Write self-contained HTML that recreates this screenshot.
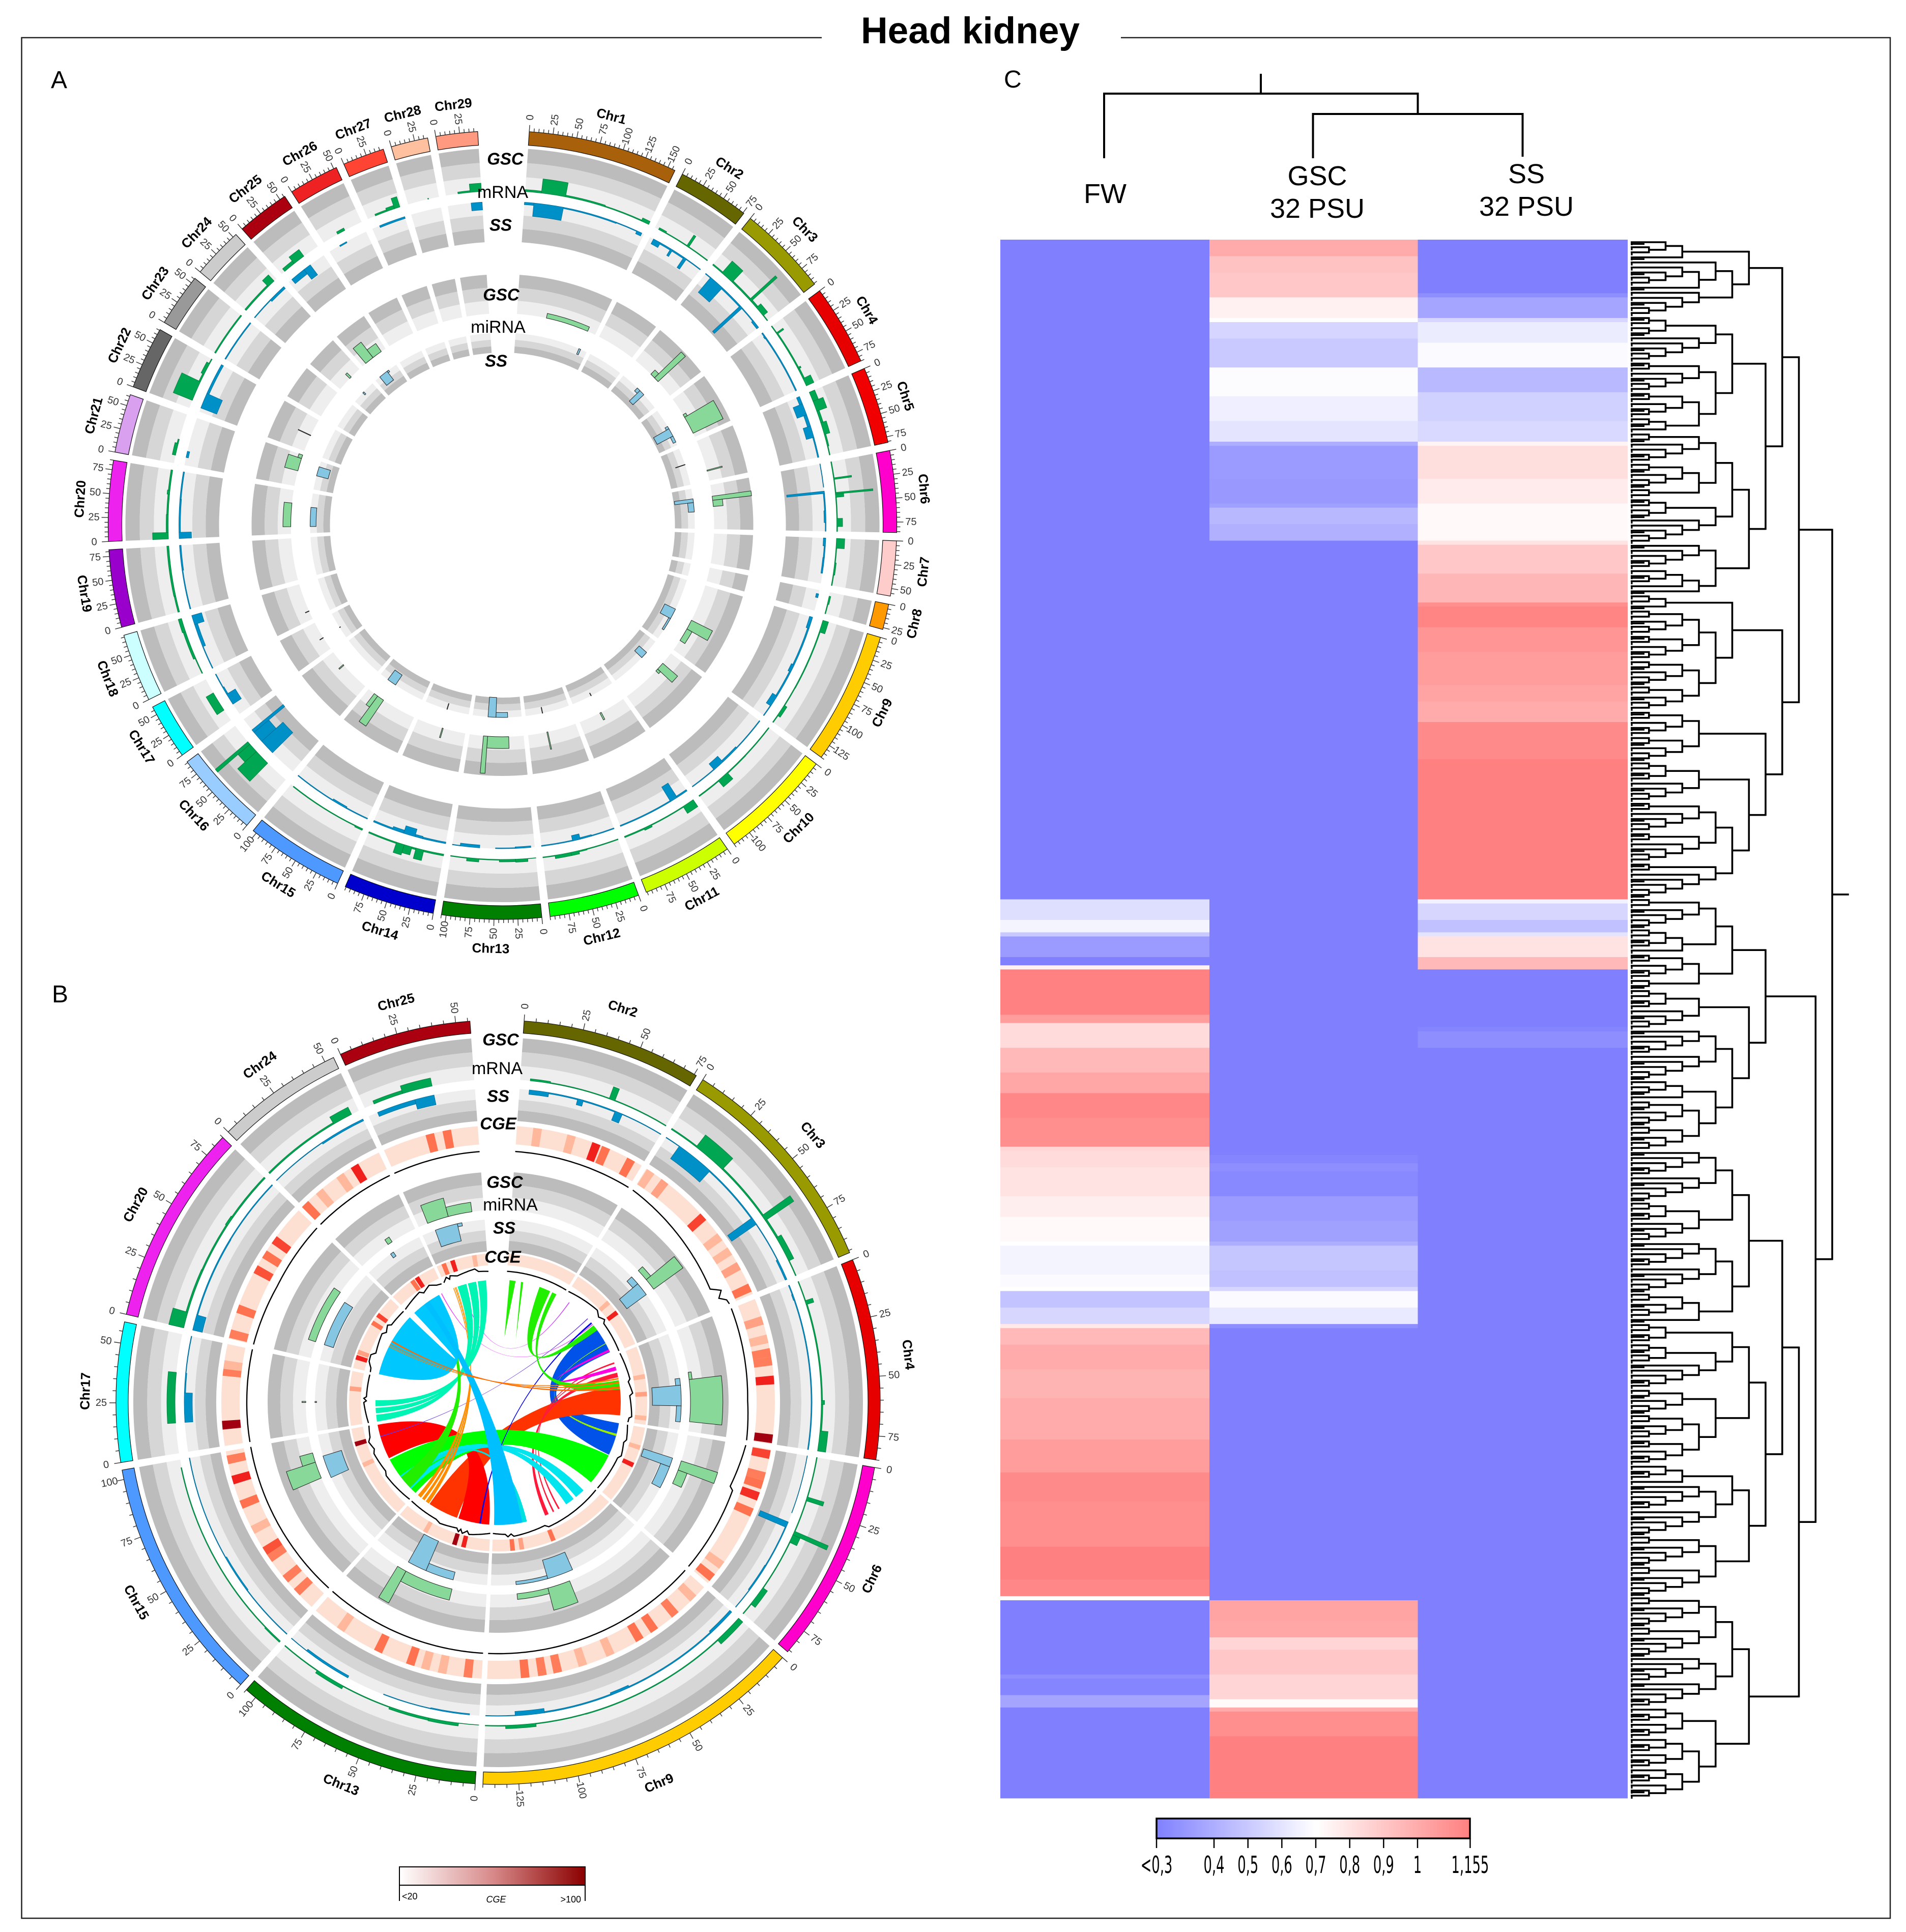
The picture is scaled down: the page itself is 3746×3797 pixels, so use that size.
<!DOCTYPE html>
<html lang="en">
<head>
<meta charset="utf-8">
<title>Head kidney</title>
<style>
html,body{margin:0;padding:0;background:#fff}
svg{display:block}
text{font-family:"Liberation Sans",sans-serif;fill:#000}
</style>
</head>
<body>
<svg id="fig" xmlns="http://www.w3.org/2000/svg" width="3746" height="3797" viewBox="0 0 3746 3797">
<defs>
<linearGradient id="heatGrad" x1="0" x2="1" y1="0" y2="0"><stop offset="0" stop-color="#8080ff"/><stop offset="0.508" stop-color="#ffffff"/><stop offset="1" stop-color="#ff8080"/></linearGradient>
<linearGradient id="cgeGrad" x1="0" x2="1" y1="0" y2="0"><stop offset="0" stop-color="#ffffff"/><stop offset="0.5" stop-color="#d88a8a"/><stop offset="1" stop-color="#8b0000"/></linearGradient>
</defs>
<rect width="3746" height="3797" fill="#fff"/>
<path d="M1615 74H42.5V3770H3715V74H2203" fill="none" stroke="#222" stroke-width="2.5"/>
<text x="1907" y="85" font-size="73" font-weight="700" text-anchor="middle">Head kidney</text>
<text x="100" y="173" font-size="48">A</text>
<text x="102" y="1970" font-size="48">B</text>
<text x="1973" y="172" font-size="48">C</text>
<g id="panelA"></g>
<g id="panelB"></g>
<g id="panelC">
<path d="M2478 145V184M2170 311V184H2786.5V224M2580.5 311V224H2992.5V308" fill="none" stroke="#000" stroke-width="4"/>
<text x="2172" y="399" font-size="54" text-anchor="middle">FW</text>
<text x="2589" y="364" font-size="54" text-anchor="middle">GSC</text>
<text x="2589" y="428" font-size="54" text-anchor="middle">32 PSU</text>
<text x="3000" y="360" font-size="54" text-anchor="middle">SS</text>
<text x="3000" y="424" font-size="54" text-anchor="middle">32 PSU</text>
</g>
<g id="legendB">
<rect x="785" y="3669" width="365" height="36" fill="url(#cgeGrad)" stroke="#000" stroke-width="2"/>
<path d="M785 3705V3736M1150 3705V3736" stroke="#000" stroke-width="2"/>
<text x="790" y="3733" font-size="18">&lt;20</text>
<text x="975" y="3739" font-size="18" font-style="italic" text-anchor="middle">CGE</text>
<text x="1142" y="3739" font-size="18" text-anchor="end">&gt;100</text>
</g>
</svg>
<script>
/* ---------- genome ---------- */
const chrNames=["Chr1","Chr2","Chr3","Chr4","Chr5","Chr6","Chr7","Chr8","Chr9","Chr10","Chr11","Chr12","Chr13","Chr14","Chr15","Chr16","Chr17","Chr18","Chr19","Chr20","Chr21","Chr22","Chr23","Chr24","Chr25","Chr26","Chr27","Chr28","Chr29"];
const chrLengths=[158,76,96,85,81,86,58,27,140,120,96,95,105,96,104,91,59,72,82,85,62,66,56,54,56,53,44,39,44];
const chrColors=["#a8610a","#666600","#999900","#e60000","#f00000","#ff00cc","#ffcccc","#ff9900","#ffcc00","#ffff00","#ccff00","#00ff00","#008000","#0000cc","#4d99ff","#99ccff","#00ffff","#ccffff","#9900cc","#ee22ee","#d9a0f0","#666666","#999999","#cccccc","#aa0010","#ee2222","#ff4433","#ffc0a0","#ff9980"];
const panelBChrs=["Chr2","Chr3","Chr4","Chr6","Chr9","Chr13","Chr15","Chr17","Chr20","Chr24","Chr25"];

/* ---------- histogram bins: chromosome, start Mb, end Mb, relative value ---------- */
const mrnaGscBins=[
["Chr1",0,20,.12],["Chr1",20,50,.42],["Chr1",50,100,.1],["Chr1",100,148,.06],["Chr1",148,158,.2],
["Chr2",5,15,.12],["Chr2",15,45,.05],["Chr2",45,48,.4],["Chr2",48,76,.05],
["Chr3",0,15,.08],["Chr3",15,32,.45],["Chr3",32,62,.1],["Chr3",62,65,.85],["Chr3",65,75,.12],["Chr3",75,88,.25],["Chr3",88,96,.05],
["Chr4",0,10,.05],["Chr4",10,12,.3],["Chr4",12,60,.08],["Chr4",60,62,.2],["Chr4",62,75,.1],["Chr4",75,85,.3],
["Chr5",0,12,.25],["Chr5",12,25,.35],["Chr5",25,40,.15],["Chr5",40,55,.25],["Chr5",55,70,.1],["Chr5",70,81,.05],
["Chr6",0,20,.05],["Chr6",20,22,.5],["Chr6",22,38,.05],["Chr6",38,40,.9],["Chr6",40,44,.3],["Chr6",44,70,.05],["Chr6",70,80,.25],["Chr6",80,86,.05],
["Chr7",0,12,.3],["Chr7",12,30,.05],["Chr7",30,45,.1],["Chr7",45,58,.05],
["Chr8",5,15,.1],["Chr8",15,27,.05],
["Chr9",0,15,.25],["Chr9",15,60,.06],["Chr9",60,90,.06],["Chr9",90,115,.05],["Chr9",115,130,.2],["Chr9",130,140,.05],
["Chr10",0,45,.05],["Chr10",45,75,.06],["Chr10",75,90,.3],["Chr10",90,120,.06],
["Chr11",0,15,.3],["Chr11",15,60,.06],["Chr11",60,70,.15],["Chr11",70,96,.08],
["Chr12",0,40,.05],["Chr12",40,50,.08],["Chr12",50,60,.2],["Chr12",60,80,.2],["Chr12",80,95,.05],
["Chr13",0,10,.02],["Chr13",10,25,.18],["Chr13",25,45,.15],["Chr13",45,70,.05],["Chr13",70,85,.2],["Chr13",85,105,.05],
["Chr14",0,25,.1],["Chr14",25,35,.35],["Chr14",35,40,.1],["Chr14",40,50,.3],["Chr14",50,60,.35],["Chr14",60,96,.08],
["Chr15",0,10,.1],["Chr15",10,100,.05],
["Chr16",30,50,.65],["Chr16",50,62,.45],["Chr16",62,66,1],
["Chr17",15,40,.3],
["Chr18",0,20,.05],["Chr18",20,55,.15],["Chr18",55,72,.2],
["Chr19",0,20,.1],["Chr19",20,82,.12],
["Chr20",0,8,.45],["Chr20",8,30,.12],["Chr20",30,55,.1],["Chr20",55,60,.15],["Chr20",60,85,.1],
["Chr21",10,25,.2],["Chr21",25,30,.08],
["Chr22",10,35,.55],["Chr22",35,45,.1],["Chr22",45,60,.2],["Chr22",60,66,.05],
["Chr23",0,56,.08],
["Chr24",0,40,.1],["Chr24",40,50,.3],
["Chr25",5,20,.2],["Chr25",20,35,.3],
["Chr26",20,30,.15],
["Chr27",10,25,.1],["Chr27",25,35,.2],["Chr27",35,42,.35],
["Chr28",25,26,.05],
["Chr29",15,30,.1],["Chr29",30,44,.3]];
const mrnaSsBins=[
["Chr1",0,12,.15],["Chr1",12,50,.42],["Chr1",50,120,.08],["Chr1",120,148,.05],["Chr1",148,155,.2],
["Chr2",5,15,.25],["Chr2",15,30,.1],["Chr2",30,33,.3],["Chr2",33,50,.1],["Chr2",50,54,.4],["Chr2",54,76,.05],
["Chr3",0,8,.05],["Chr3",8,28,.55],["Chr3",28,60,.1],["Chr3",60,64,.95],["Chr3",64,85,.06],["Chr3",85,96,.15],
["Chr4",0,5,.08],["Chr4",5,8,.12],["Chr4",8,85,.08],
["Chr5",0,10,.2],["Chr5",10,25,.35],["Chr5",25,40,.2],["Chr5",40,55,.3],["Chr5",55,81,.08],
["Chr6",0,30,.03],["Chr6",35,38,.95],["Chr6",38,60,.08],["Chr6",60,75,.12],["Chr6",75,86,.05],
["Chr7",0,10,.15],["Chr7",10,25,.08],["Chr7",25,45,.1],
["Chr8",5,10,.15],
["Chr9",0,15,.2],["Chr9",15,65,.1],["Chr9",65,75,.2],["Chr9",75,110,.1],["Chr9",110,125,.25],["Chr9",125,140,.05],
["Chr10",0,45,.05],["Chr10",45,70,.12],["Chr10",70,85,.3],["Chr10",85,120,.05],
["Chr11",0,15,.1],["Chr11",15,25,.5],["Chr11",25,96,.07],
["Chr12",0,30,.06],["Chr12",30,45,.1],["Chr12",45,55,.25],["Chr12",55,95,.06],
["Chr13",5,25,.1],["Chr13",25,50,.05],["Chr13",70,95,.18],["Chr13",95,105,.04],
["Chr14",0,30,.1],["Chr14",30,40,.15],["Chr14",40,55,.3],["Chr14",55,70,.2],["Chr14",70,96,.1],
["Chr15",0,30,.06],["Chr15",30,50,.12],["Chr15",50,104,.05],
["Chr16",35,55,.75],["Chr16",55,70,.55],["Chr16",70,74,1],
["Chr17",15,30,.35],["Chr17",30,40,.1],["Chr17",40,59,.05],
["Chr18",0,30,.05],["Chr18",30,60,.2],["Chr18",60,72,.35],
["Chr19",0,50,.06],["Chr19",50,82,.1],
["Chr20",0,8,.4],["Chr20",8,50,.1],["Chr20",50,85,.08],
["Chr21",10,18,.15],
["Chr22",5,25,.5],["Chr22",25,66,.15],
["Chr23",0,56,.07],
["Chr24",0,30,.05],["Chr24",30,54,.15],
["Chr25",5,25,.25],["Chr25",25,35,.4],
["Chr26",15,25,.08],
["Chr27",10,44,.12],
["Chr29",30,44,.3]];
const mirnaGscBins=[
["Chr1",58,142,.12],
["Chr3",40,50,.15],["Chr3",50,60,.95],
["Chr4",36,42,.08],["Chr4",42,77,.85],
["Chr5",60,62,.4],
["Chr6",22,30,1],["Chr6",30,42,.25],
["Chr9",73,92,.6],["Chr9",92,118,.15],
["Chr10",25,40,.5],["Chr10",40,45,.1],
["Chr11",50,53,.2],
["Chr12",56,58,.45],
["Chr13",29,70,.3],["Chr13",70,78,.95],
["Chr14",44,46,.25],
["Chr15",68,82,.8],["Chr15",82,90,.35],
["Chr16",58,60,.15],
["Chr17",25,26,.1],
["Chr18",16,17,.1],
["Chr20",14,60,.2],
["Chr21",30,55,.35],["Chr21",55,62,.1],
["Chr22",32,33,.35],
["Chr24",28,32,.15],
["Chr25",8,26,.5],["Chr25",26,46,.25]];
const mirnaSsBins=[
["Chr1",140,144,.3],
["Chr3",40,48,.2],["Chr3",48,60,.75],
["Chr4",40,46,.15],["Chr4",46,64,.9],["Chr4",64,78,.15],
["Chr5",36,37,.5],
["Chr6",22,30,.95],["Chr6",30,50,.3],
["Chr9",67,90,.6],["Chr9",90,118,.1],
["Chr10",30,45,.5],
["Chr11",52,53,.15],
["Chr12",58,59,.3],
["Chr13",30,55,.25],["Chr13",55,72,1],
["Chr14",47,48,.3],
["Chr15",65,85,.6],
["Chr17",25,26,.05],
["Chr20",14,55,.3],
["Chr21",30,50,.6],
["Chr24",25,28,.15],
["Chr25",12,32,.55],["Chr25",32,36,.1]];

/* ---------- CGE heat cells: chromosome, Mb, CGE ---------- */
const cgeOuterCells=[
["Chr2",12,38],["Chr2",32,38],["Chr2",47,75],["Chr2",53,58],["Chr2",69,58],
["Chr3",3,38],["Chr3",13,45],["Chr3",43,68],["Chr3",58,38],["Chr3",68,38],["Chr3",78,45],["Chr3",92,58],
["Chr4",13,45],["Chr4",24,38],["Chr4",32,55],["Chr4",37,55],["Chr4",48,75],["Chr4",82,100],
["Chr6",3,68],["Chr6",16,55],["Chr6",21,58],["Chr6",28,72],["Chr6",38,58],["Chr6",73,38],["Chr6",82,58],
["Chr9",9,38],["Chr9",23,55],["Chr9",38,58],["Chr9",48,58],["Chr9",67,38],["Chr9",84,38],["Chr9",99,55],["Chr9",108,55],["Chr9",118,58],
["Chr13",8,55],["Chr13",23,38],["Chr13",33,38],["Chr13",42,58],["Chr13",62,58],["Chr13",87,38],
["Chr15",12,55],["Chr15",22,55],["Chr15",37,55],["Chr15",42,65],["Chr15",56,38],["Chr15",72,58],["Chr15",87,75],["Chr15",99,55],
["Chr17",12,100],["Chr17",43,55],["Chr17",47,38],
["Chr20",3,55],["Chr20",18,58],["Chr20",43,65],["Chr20",53,58],["Chr20",63,68],
["Chr24",2,58],["Chr24",13,38],["Chr24",28,38],["Chr24",38,75],
["Chr25",28,58],["Chr25",38,58]];
const cgeInnerCells=[
["Chr25",42,38],["Chr25",18,75],["Chr25",8,58],["Chr24",33,75],["Chr24",27,58],["Chr20",63,68],["Chr20",53,58],["Chr20",18,45],["Chr20",12,75],
["Chr17",40,45],["Chr15",87,100],["Chr15",63,38],["Chr13",72,38],["Chr13",38,100],["Chr13",28,75],["Chr9",118,58],["Chr9",108,45],["Chr9",73,58],
["Chr6",42,75],["Chr6",22,38],["Chr4",78,38],["Chr4",52,45],["Chr4",33,38],["Chr3",57,75],["Chr3",43,38]];
const cgeStops=[20,40,60,75,100];
const cgeStopColors=["#fee0d2","#ffb396","#ff6b47","#f0201c","#a00010"];

/* ---------- coverage lines: chromosome, Mb, value ---------- */
const outerLinePoints=[
["Chr3",82,1.2],["Chr3",86,.2],["Chr3",90,.8],["Chr3",93,.1],["Chr6",28,.5],["Chr6",30,.1],["Chr20",40,.2],["Chr4",60,.2]];
const innerLinePoints=[
["Chr3",41,.8],["Chr3",48,.1],["Chr3",55,.7],["Chr3",58,.1],
["Chr4",33,.5],["Chr4",36,.1],["Chr4",50,.7],["Chr4",53,.1],["Chr4",78,.6],["Chr4",80,.1],
["Chr6",18,.5],["Chr6",22,.1],["Chr6",38,.6],["Chr6",42,.1],
["Chr9",72,.6],["Chr9",76,.1],["Chr9",115,.7],["Chr9",118,.2],["Chr9",122,.7],["Chr9",125,.2],
["Chr13",25,.8],["Chr13",28,.2],["Chr13",33,.9],["Chr13",36,.2],["Chr13",38,.8],["Chr13",41,.2],["Chr13",62,.6],["Chr13",68,.2],
["Chr15",40,.5],["Chr15",45,.1],["Chr15",70,.6],["Chr15",75,.2],["Chr15",85,.8],["Chr15",90,.3],
["Chr17",25,.6],["Chr17",27,.1],["Chr17",30,.6],["Chr17",32,.1],
["Chr20",5,.1],["Chr20",12,.8],["Chr20",20,.9],["Chr20",24,.1],["Chr20",48,.7],["Chr20",52,.1],["Chr20",60,.7],["Chr20",63,.1],
["Chr24",26,.8],["Chr24",30,.2],["Chr24",40,.9],["Chr24",48,.2],
["Chr25",5,.8],["Chr25",8,.2],["Chr25",10,.8],["Chr25",18,.3],["Chr25",40,.8],["Chr25",44,.2]];

/* ---------- links: chrA, startA, endA, chrB, startB, endB, colour ---------- */
const links=[
["Chr3",8,9,"Chr25",18,19,"#cc33ff"],["Chr3",50,51,"Chr24",48,49,"#ee33ff"],
["Chr3",55,93,"Chr6",0,43,"#0052e8"],
["Chr6",14,17,"Chr3",80,81,"#99ee00"],
["Chr4",40,78,"Chr13",45,85,"#ff3300"],
["Chr15",57,103,"Chr13",2,43,"#ff0000"],
["Chr9",50,52,"Chr4",8,10,"#ff1a3c"],["Chr9",58,60,"Chr4",14,16,"#ff1a3c"],["Chr9",66,71,"Chr4",22,28,"#ff1a3c"],
["Chr6",44,86,"Chr15",0,55,"#00ff00"],
["Chr9",11,24,"Chr15",8,16,"#00e5ee"],["Chr9",28,40,"Chr15",19,30,"#00e5ee"],
["Chr9",96,104,"Chr15",18,26,"#00e0e0"],
["Chr3",47,49,"Chr13",13,15,"#0000ee"],["Chr3",40,41,"Chr15",87,88,"#6633ee"],
["Chr4",14,19,"Chr3",89,92,"#ff00e0"],
["Chr13",86,91,"Chr25",8,9,"#ff8c00"],["Chr13",93,97,"Chr25",10,11,"#ff8c00"],["Chr13",99,104,"Chr25",11.5,12.5,"#ff8c00"],
["Chr17",0,9,"Chr25",14,26,"#00f5b5"],["Chr17",11,18,"Chr25",28,39,"#00f5b5"],["Chr17",20,28,"Chr25",41,52,"#00f5b5"],
["Chr2",44,59,"Chr3",52,60,"#22ee00"],["Chr2",62,68,"Chr4",32,44,"#22ee00"],
["Chr24",30,36,"Chr15",10,28,"#22ee00"],
["Chr20",0,85,"Chr24",5,45,"#00c8ff"],
["Chr24",22,30,"Chr9",102,139,"#00bfff"],
["Chr4",29,31,"Chr20",38,39,"#ff8000"],["Chr4",34,36,"Chr20",41,42,"#ff7000"],["Chr4",40,43,"Chr20",45,47,"#ff6a00"]];
const linkStubs=[["Chr2",4,12,5.5,129,"#22ee00"],["Chr2",19,22,15.7,129,"#22ee00"]];

/* ---------- heatmap runs: rows, value ---------- */
const heatFW=[[160,.3],[5,.58],[3,.66],[1,.5],[5,.36],[2,.3],[1,.75],[11,1.15],[2,1.05],[6,.83],[6,.95],[5,1.02],[6,1.13],[7,1.1],[1,.85],[4,.83],[7,.8],[5,.76],[6,.72],[1,.7],[7,.66],[3,.68],[1,.7],[4,.48],[4,.55],[1,.78],[4,.95],[6,1],[7,.97],[10,1],[8,1.05],[7,1.12],[11,1.1],[8,1.155],[4,1.13],[1,.7],[18,.3],[1,.33],[4,.31],[3,.38],[22,.3]];
const heatGSC=[[4,1],[4,.92],[6,.9],[5,.75],[1,.7],[4,.545],[7,.5],[7,.69],[6,.64],[5,.6],[1,.4],[8,.36],[6,.353],[1,.37],[4,.437],[4,.41],[149,.3],[2,.31],[2,.33],[6,.32],[6,.36],[5,.37],[1,.4],[6,.49],[4,.47],[1,.55],[4,.68],[4,.62],[1,.33],[66,.3],[5,1.03],[4,1.02],[3,.85],[6,.9],[6,.85],[2,.72],[1,1],[6,1.1],[15,1.155]];
const heatSS=[[13,.3],[1,.33],[5,.38],[1,.55],[5,.63],[6,.68],[6,.44],[7,.53],[5,.56],[1,.74],[8,.82],[6,.77],[9,.72],[1,.8],[7,.9],[7,.96],[1,1.1],[5,1.14],[6,1.08],[8,1.05],[4,1.03],[5,1],[9,1.12],[34,1.155],[1,.65],[4,.55],[3,.47],[1,.6],[5,.8],[3,.95],[14,.3],[1,.31],[4,.33],[182,.3]];
const heatColumns=[["fw",heatFW],["gsc",heatGSC],["ss",heatSS]];
const heatLegendValues=[.3,.4,.5,.6,.7,.8,.9,1,1.155];
const heatLegendLabels=["<0,3","0,4","0,5","0,6","0,7","0,8","0,9","1","1,155"];

/* ---------- row dendrogram as nested clusters (. = leaf) ---------- */
const dendroMacros=[["a","(..)"],["b","(.a)"],["c","(aa)"],["d","(.b)"],["e","(b.)"],["f","(ab)"],["g","(.d)"],["h","(ad)"]];
const dendroA1="((e((.(d.))g))(((cg)(h(f(a.))))(((h(fa))(cg))(g(e.)))))";
const dendroA2="(((a.)((ff)(ff)))((ff)((cd)((hh)(ag)))))";
const dendroB1="(((h(c.))(fa))((cd)((gg)(e(ff)))))";
const dendroB2a="((((gg)(cd))((gg)(f.)))(((c(cg))(f(ff)))((e(gg))(hh))))";
const dendroB2b="(((hh)(gg))((bb)((bb)(bb))))";
const dendroTree="(("+dendroA1+dendroA2+")("+dendroB1+"("+dendroB2a+dendroB2b+")))";

/* ---------- helpers ---------- */
const NS="http://www.w3.org/2000/svg";
function mk(tag,attrs,parent,txt){
  const el=document.createElementNS(NS,tag);
  for(const k in attrs)el.setAttribute(k,attrs[k]);
  if(txt!==undefined)el.textContent=txt;
  parent.appendChild(el);
  return el;
}
function hexRgb(h){return [parseInt(h.substr(1,2),16),parseInt(h.substr(3,2),16),parseInt(h.substr(5,2),16)];}
function mix(c1,c2,t){const a=hexRgb(c1),b=hexRgb(c2);return "rgb("+a.map((v,i)=>Math.round(v+(b[i]-v)*t)).join(",")+")";}
function cgeColor(v){
  for(let i=1;i<cgeStops.length;i++){
    if(v<=cgeStops[i])return mix(cgeStopColors[i-1],cgeStopColors[i],(v-cgeStops[i-1])/(cgeStops[i]-cgeStops[i-1]));
  }
  return cgeStopColors[cgeStopColors.length-1];
}
/* mRNA histogram axis: low counts are compressed towards the base line */
function mrnaAxis(v){return v<.2?v*.4:.08+(v-.2)*1.15;}
function linearAxis(v){return v;}

function drawCircos(root,p){
  const rad=d=>d*Math.PI/180;
  const pt=(r,a)=>[p.cx+r*Math.sin(rad(a)),p.cy-r*Math.cos(rad(a))];
  const f=n=>n.toFixed(1);
  const sector=(r0,r1,a0,a1)=>{
    const la=(a1-a0)>180?1:0,A=pt(r1,a0),B=pt(r1,a1),C=pt(r0,a1),D=pt(r0,a0);
    return "M"+f(A[0])+" "+f(A[1])+"A"+r1+" "+r1+" 0 "+la+" 1 "+f(B[0])+" "+f(B[1])+"L"+f(C[0])+" "+f(C[1])+"A"+r0+" "+r0+" 0 "+la+" 0 "+f(D[0])+" "+f(D[1])+"Z";
  };
  const start={};
  let cursor=p.start;
  p.chrs.forEach(n=>{start[n]=cursor;cursor+=chrLengths[chrNames.indexOf(n)]*p.scale+p.gap;});
  const ang=(chr,mb)=>start[chr]+mb*p.scale;
  const has=chr=>start[chr]!==undefined;

  /* background track bands */
  const bandD=["","",""];
  p.tracks.forEach(t=>{
    const step=(t.outer-t.inner)/3;
    p.chrs.forEach(n=>{
      const a0=ang(n,0),a1=ang(n,chrLengths[chrNames.indexOf(n)]);
      for(let i=0;i<3;i++){
        const shade=t.darkOuter?i:2-i;
        bandD[shade]+=sector(t.outer-(i+1)*step,t.outer-i*step,a0,a1);
      }
    });
  });
  ["#bcbcbc","#d6d6d6","#eeeeee"].forEach((col,i)=>{
    const el=mk("path",{d:bandD[i],fill:col},root);
    
    
  });

  /* ideograms, ticks and labels */
  p.chrs.forEach(n=>{
    const idx=chrNames.indexOf(n),len=chrLengths[idx];
    const a0=ang(n,0),a1=ang(n,len);
    const g=mk("g",{},root);
    
    
    const id=mk("path",{d:sector(p.idIn,p.idOut,a0,a1),fill:chrColors[idx],stroke:"#111","stroke-width":1.2},g);
    
    
    let d="";
    for(let m=0;m<=len;m+=5){
      const t=pt(p.idOut,ang(n,m)),u=pt(p.idOut+(m%25===0?13:7),ang(n,m));
      d+="M"+f(t[0])+" "+f(t[1])+"L"+f(u[0])+" "+f(u[1]);
    }
    const ticks=mk("path",{d:d,stroke:"#333","stroke-width":1.4,fill:"none"},g);
    
    
    for(let m=0;m<=len;m+=25){
      const a=ang(n,m),q=pt(p.tickR,a),rot=a<180?a-90:a+90;
      const tl=mk("text",{x:f(q[0]),y:f(q[1]),"font-size":20,"text-anchor":"middle","dominant-baseline":"central",transform:"rotate("+f(rot)+" "+f(q[0])+" "+f(q[1])+")",style:"fill:#333"},g,String(m));
      
      
    }
    const mid=(a0+a1)/2,q=pt(p.labelR,mid),rot=(mid>90&&mid<270)?mid-180:mid;
    const cl=mk("text",{x:f(q[0]),y:f(q[1]),"font-size":26,"font-weight":700,"text-anchor":"middle","dominant-baseline":"central",transform:"rotate("+f(rot)+" "+f(q[0])+" "+f(q[1])+")"},g,n);
    
    
  });

  /* histograms */
  p.hists.forEach(h=>{
    const g=mk("g",{},root);
    
    
    h.bins.forEach(b=>{
      if(!has(b[0]))return;
      const far=h.base+h.dir*h.axis(b[3])*h.height;
      const r0=Math.min(h.base,far),r1=Math.max(h.base,far);
      const el=mk("path",{d:sector(r0,r1,ang(b[0],b[1]),ang(b[0],b[2])),fill:h.fill,stroke:h.stroke,"stroke-width":h.sw},g);
      
      
    });
  });

  /* CGE rings and coverage lines (panel B only) */
  (p.cge||[]).forEach(c=>{
    const g=mk("g",{},root);
    
    
    let base="";
    p.chrs.forEach(n=>{base+=sector(c.inner,c.outer,ang(n,0),ang(n,chrLengths[chrNames.indexOf(n)]));});
    const bg=mk("path",{d:base,fill:"#fee0d2"},g);
    
    
    c.cells.forEach(cell=>{
      const el=mk("path",{d:sector(c.inner,c.outer,ang(cell[0],cell[1]-2.5),ang(cell[0],cell[1]+2.5)),fill:cgeColor(cell[2])},g);
      
      
    });
    let d="";
    p.chrs.forEach(n=>{
      const len=chrLengths[chrNames.indexOf(n)];
      const pts=[[0,0]].concat(c.line.filter(x=>x[0]===n).map(x=>[x[1],x[2]])).concat([[len,0]]);
      pts.forEach((v,i)=>{
        if(i===0){const q=pt(c.lineR,ang(n,v[0]));d+="M"+f(q[0])+" "+f(q[1]);return;}
        const prev=pts[i-1],steps=Math.max(1,Math.ceil((v[0]-prev[0])/2));
        for(let s=1;s<=steps;s++){
          const m=prev[0]+(v[0]-prev[0])*s/steps,val=prev[1]+(v[1]-prev[1])*s/steps;
          const q=pt(c.lineR+val*c.lineH,ang(n,m));
          d+="L"+f(q[0])+" "+f(q[1]);
        }
      });
    });
    const ln=mk("path",{d:d,fill:"none",stroke:"#000","stroke-width":2.4},g);
    
    
  });

  /* links */
  if(p.linkR){
    const g=mk("g",{},root);
    
    
    const R=p.linkR,cc=f(p.cx)+" "+f(p.cy);
    const P=a=>{const q=pt(R,a);return f(q[0])+" "+f(q[1]);};
    links.forEach(l=>{
      const a1=ang(l[0],l[1]),a2=ang(l[0],l[2]),b1=ang(l[3],l[4]),b2=ang(l[3],l[5]);
      const d="M"+P(a1)+"A"+R+" "+R+" 0 0 1 "+P(a2)+"Q"+cc+" "+P(b1)+"A"+R+" "+R+" 0 0 1 "+P(b2)+"Q"+cc+" "+P(a1)+"Z";
      const el=mk("path",{d:d,fill:l[6]},g);
      
      
    });
    linkStubs.forEach(s=>{
      const e=pt(s[4],s[3]);
      const d="M"+P(ang(s[0],s[1]))+"L"+P(ang(s[0],s[2]))+"L"+f(e[0])+" "+f(e[1])+"Z";
      const el=mk("path",{d:d,fill:s[5]},g);
      
      
    });
  }

  /* track captions */
  p.captions.forEach(c=>{
    const el=mk("text",{x:c[1],y:c[2],"font-size":c[3],"text-anchor":"middle","dominant-baseline":"central","font-weight":c[4]?700:400,"font-style":c[4]?"italic":"normal"},root,c[0]);
    
    
  });
}

const GREEN="#00a651",BLUE="#0090c8",PGREEN="#88d89a",PBLUE="#85c6e3";

drawCircos(document.getElementById("panelA"),{
  cx:987.5,cy:1032,start:3.9,scale:.1395,gap:1.2,chrs:chrNames,
  idIn:748,idOut:775,tickR:803,labelR:832,
  tracks:[{outer:741,inner:657,darkOuter:true},{outer:636,inner:557,darkOuter:false},{outer:493,inner:416,darkOuter:true},{outer:378,inner:339,darkOuter:false}],
  hists:[
    {name:'mrna-gsc-histogram-a',bins:mrnaGscBins,base:657,dir:1,height:84,axis:mrnaAxis,fill:GREEN,stroke:"#007a3a",sw:.8},
    {name:'mrna-ss-histogram-a',bins:mrnaSsBins,base:636,dir:-1,height:79,axis:mrnaAxis,fill:BLUE,stroke:"#006a96",sw:.8},
    {name:'mirna-gsc-histogram-a',bins:mirnaGscBins,base:416,dir:1,height:77,axis:linearAxis,fill:PGREEN,stroke:"#222",sw:1},
    {name:'mirna-ss-histogram-a',bins:mirnaSsBins,base:378,dir:-1,height:39,axis:linearAxis,fill:PBLUE,stroke:"#222",sw:1}],
  captions:[["GSC",993,312,33,1],["mRNA",988,378,34,0],["SS",984,442,33,1],["GSC",985,579,33,1],["miRNA",979,643,34,0],["SS",975,709,33,1]]
});
drawCircos(document.getElementById("panelB"),{
  cx:979,cy:2756,start:3.9,scale:.3598,gap:1.15,chrs:panelBChrs,
  idIn:727,idOut:751,tickR:780,labelR:812,
  tracks:[{outer:717,inner:635,darkOuter:true},{outer:617,inner:554,darkOuter:false},{outer:453,inner:378,darkOuter:true},{outer:360,inner:297,darkOuter:false}],
  hists:[
    {name:'mrna-gsc-histogram-b',bins:mrnaGscBins,base:635,dir:1,height:82,axis:mrnaAxis,fill:GREEN,stroke:"#007a3a",sw:.8},
    {name:'mrna-ss-histogram-b',bins:mrnaSsBins,base:617,dir:-1,height:63,axis:mrnaAxis,fill:BLUE,stroke:"#006a96",sw:.8},
    {name:'mirna-gsc-histogram-b',bins:mirnaGscBins,base:378,dir:1,height:75,axis:linearAxis,fill:PGREEN,stroke:"#222",sw:1},
    {name:'mirna-ss-histogram-b',bins:mirnaSsBins,base:360,dir:-1,height:63,axis:linearAxis,fill:PBLUE,stroke:"#222",sw:1}],
  cge:[
    {name:'cge-ring-mrna',inner:508,outer:544,cells:cgeOuterCells,line:outerLinePoints,lineR:494,lineH:-18},
    {name:'cge-ring-mirna',inner:270,outer:293,cells:cgeInnerCells,line:innerLinePoints,lineR:258,lineH:10}],
  linkR:241,
  captions:[["GSC",984,2043,33,1],["mRNA",977,2100,34,0],["SS",979,2154,33,1],["CGE",979,2208,33,1],["GSC",992,2323,33,1],["miRNA",1003,2368,34,0],["SS",991,2413,33,1],["CGE",988,2470,33,1]]
});

/* ---------- heatmap ---------- */
(function(){
  const root=document.getElementById("panelC");
  const colX=[1966,2377,2786.5,3198.6],top=471,bottom=3534,totalRows=378;
  const rowH=(bottom-top)/totalRows;
  function heatPos(v){ /* 0..1 position on the blue-white side of the scale */
    if(v<=.4)return (v-.3)/.1*.36;
    return .36+(v-.4)/.3*.64;
  }
  function heatColor(v){
    if(v<=.7)return mix("#8080ff","#ffffff",Math.max(0,Math.min(1,heatPos(v))));
    return mix("#ffffff","#ff8080",Math.min(1,(v-.7)/.455));
  }
  heatColumns.forEach((col,ci)=>{
    const g=mk("g",{},root);
    
    
    let row=0;
    col[1].forEach(run=>{
      const y0=top+row*rowH,y1=top+(row+run[0])*rowH;
      const r=mk("rect",{x:colX[ci],y:y0.toFixed(2),width:colX[ci+1]-colX[ci]+.4,height:(y1-y0+.4).toFixed(2),fill:heatColor(run[1])},g);
      
      
      row+=run[0];
    });
  });

  /* dendrogram */
  let s=dendroTree;
  while(/[a-h]/.test(s)){
    dendroMacros.forEach(m=>{s=s.split(m[0]).join(m[1]);});
  }
  let pos=0,leaves=0;
  function parse(){
    if(s[pos]==="."){pos++;return {leaf:leaves++,h:0};}
    pos++;
    const kids=[];
    while(s[pos]!==")"&&pos<s.length)kids.push(parse());
    pos++;
    return {kids:kids,h:1+Math.max.apply(null,kids.map(k=>k.h))};
  }
  const tree=parse();
  const leafH=(bottom-top)/leaves;
  const X=h=>h===0?3205:3208+32.75*h;
  let d="",dash="",rung="";
  function walk(n){
    if(n.kids===undefined){
      n.y=top+(n.leaf+.5)*leafH;
      dash+="M3207 "+n.y.toFixed(1)+"V"+(n.y+6).toFixed(1);
      if(n.leaf%3===0)rung+="M3205 "+(n.y+3.5).toFixed(1)+"H3232";
      return;
    }
    n.kids.forEach(walk);
    const first=n.kids[0],last=n.kids[n.kids.length-1];
    n.y=(first.y+last.y)/2;
    const x=X(n.h);
    n.kids.forEach(k=>{d+="M"+X(k.h).toFixed(1)+" "+k.y.toFixed(1)+"H"+x.toFixed(1);});
    d+="M"+x.toFixed(1)+" "+(first.y-1.7).toFixed(1)+"V"+(last.y+1.7).toFixed(1);
  }
  walk(tree);
  d+="M"+X(tree.h).toFixed(1)+" "+tree.y.toFixed(1)+"H"+X(tree.h+1).toFixed(1);
  const dn=mk("path",{d:d,fill:"none",stroke:"#000","stroke-width":3.6},root);
  
  
  const ld=mk("path",{d:dash+rung,fill:"none",stroke:"#000","stroke-width":3.2},root);
  
  

  /* colour legend */
  const lg=mk("g",{},root);
  
  
  const bar=mk("rect",{x:2273,y:3574,width:616,height:39,fill:"url(#heatGrad)",stroke:"#000","stroke-width":3.5},lg);
  
  
  const legendX=v=>v<=.4?2273+(v-.3)*1130:2386+(v-.4)*666.7;
  heatLegendValues.forEach((v,i)=>{
    const x=legendX(v);
    const t=mk("path",{d:"M"+x.toFixed(1)+" 3613V3632",stroke:"#000","stroke-width":2.5},lg);
    
    
    const l=mk("text",{"font-size":46,"text-anchor":"middle",transform:"translate("+x.toFixed(1)+" 3681) scale(.56 1)",style:'font-family:"DejaVu Sans","Liberation Sans",sans-serif'},lg,heatLegendLabels[i]);
    
    
  });
})();
</script>
</body>
</html>
